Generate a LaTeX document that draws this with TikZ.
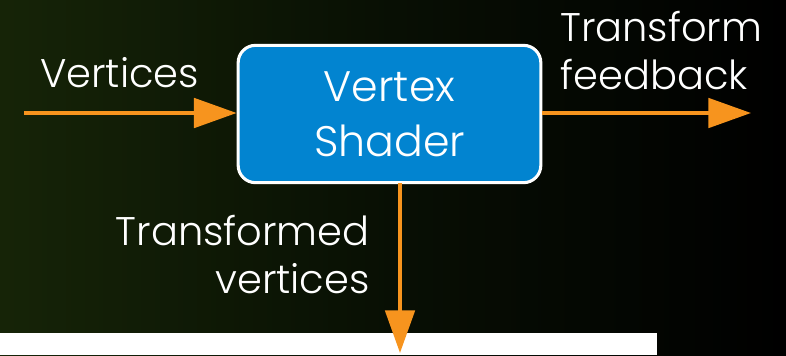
\documentclass[tikz,border=0pt]{standalone}
\usepackage{fontspec}
\setmainfont{Poppins Light}
\usetikzlibrary{arrows.meta}
\definecolor{arrowor}{RGB}{247,148,30}
\definecolor{boxblue}{RGB}{2,132,208}
\definecolor{bgleft}{RGB}{22,36,7}
\definecolor{bgmid}{RGB}{8,15,4}
\tikzset{
  flow/.style={draw=arrowor, line width=3pt,
    -{Triangle[length=32pt,width=22pt]}},
  stage/.style={draw=white, fill=boxblue, line width=2.3pt,
    rounded corners=13pt, minimum width=227pt, minimum height=103pt,
    align=center, text=white, font=\fontsize{32}{41}\selectfont},
  lbl/.style={text=white, inner sep=0pt, font=\fontsize{30}{36}\selectfont}
}
\begin{document}
\begin{tikzpicture}[x=0.75pt,y=-0.75pt]
  % backdrop
  \shade[left color=bgleft, right color=black, middle color=bgmid]
    (0,0) rectangle (786,355);
  \useasboundingbox (0,0) rectangle (786,355);
  \fill[white] (0,333) rectangle (657,355);

  % the shader stage
  \node[stage] (vs) at (389.5,114) {Vertex\\Shader};

  % connector ends
  \coordinate (src) at (24,113);
  \coordinate (fb) at (751,113);
  \coordinate (dn) at (400,353);
  \coordinate (dntop) at (400,183);

  \draw[flow] (src) -- (vs.west |- src);
  \draw[flow] (vs.east |- fb) -- (fb);
  \draw[flow] (dntop) -- (dn);

  % labels
  \node[lbl, anchor=base west] (lv) at (40,87) {Vertices};
  \node[lbl, anchor=base west] (lt1) at (560,41) {Transform};
  \node[lbl, anchor=base west] (lt2) at (560,89) {feedback};
  \node[lbl, anchor=base east] (ld1) at (370,245) {Transformed};
  \node[lbl, anchor=base east] (ld2) at (370,293) {vertices};
\end{tikzpicture}
\end{document}
